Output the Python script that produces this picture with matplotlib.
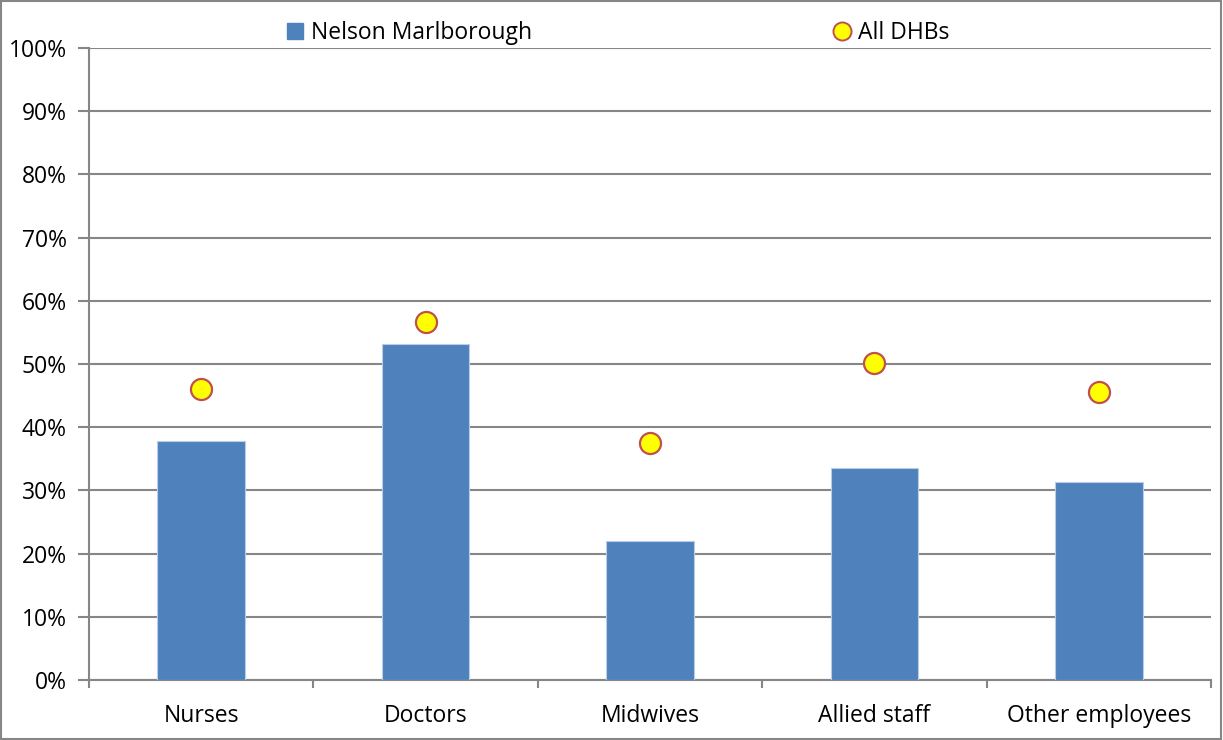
import matplotlib
matplotlib.use('Agg')
import matplotlib.pyplot as plt
from matplotlib.lines import Line2D
from matplotlib.patches import Rectangle
import numpy as np

categories = ['Nurses', 'Doctors', 'Midwives', 'Allied staff', 'Other employees']
nelson = [37.8, 53.2, 22.0, 33.5, 31.3]
all_dhbs = [46.0, 56.6, 37.5, 50.2, 45.6]
yticks = list(range(0, 101, 10))

plt.rcParams['font.family'] = ['Open Sans', 'DejaVu Sans']

fig = plt.figure(figsize=(12.23, 7.40), dpi=100)
ax = fig.add_axes([89 / 1223, 60 / 740, (1211 - 89) / 1223, (680 - 48) / 740])

x = np.arange(len(categories))
ax.bar(x, nelson, width=0.39, color='#4f81bd', edgecolor='#b9cde5', linewidth=0.8, zorder=3)
ax.scatter(x, all_dhbs, s=230, color='#ffff00', edgecolors='#c0504d', linewidths=1.6, zorder=4)

ax.set_xlim(-0.5, len(categories) - 0.5)
ax.set_ylim(0, 100)
ax.set_yticks(yticks)
ax.set_yticklabels([f'{v}%' for v in yticks])
ax.yaxis.grid(True, color='#868686', linewidth=1.5, zorder=0)
ax.set_axisbelow(True)

ax.set_xticks(x)
ax.set_xticklabels(categories)
ax.set_xticks(np.arange(-0.5, len(categories)), minor=True)
ax.tick_params(axis='x', which='major', length=0, pad=17, labelsize=16.5)
ax.tick_params(axis='x', which='minor', length=6, color='#868686', width=1.5)
ax.tick_params(axis='y', length=8, color='#868686', width=1.5, labelsize=16.5, pad=8)

for side in ['top', 'right']:
    ax.spines[side].set_visible(False)
for side in ['left', 'bottom']:
    ax.spines[side].set_color('#868686')
    ax.spines[side].set_linewidth(1.5)

handles = [
    Line2D([], [], marker='s', linestyle='none', markersize=11, color='#4f81bd'),
    Line2D([], [], marker='o', linestyle='none', markersize=13, markerfacecolor='#ffff00',
           markeredgecolor='#c0504d', markeredgewidth=1.4),
]
fig.legend(handles, ['Nelson Marlborough', 'All DHBs'], loc='center', ncol=2,
           bbox_to_anchor=(0.504, 0.955), frameon=False, fontsize=16.5,
           columnspacing=13.0, handletextpad=0.2, handlelength=1.0)

fig.patches.append(Rectangle((0.001, 0.001), 0.997, 0.997, transform=fig.transFigure,
                             fill=False, edgecolor='#868686', linewidth=1.5))

fig.savefig('out.png', dpi=100)
